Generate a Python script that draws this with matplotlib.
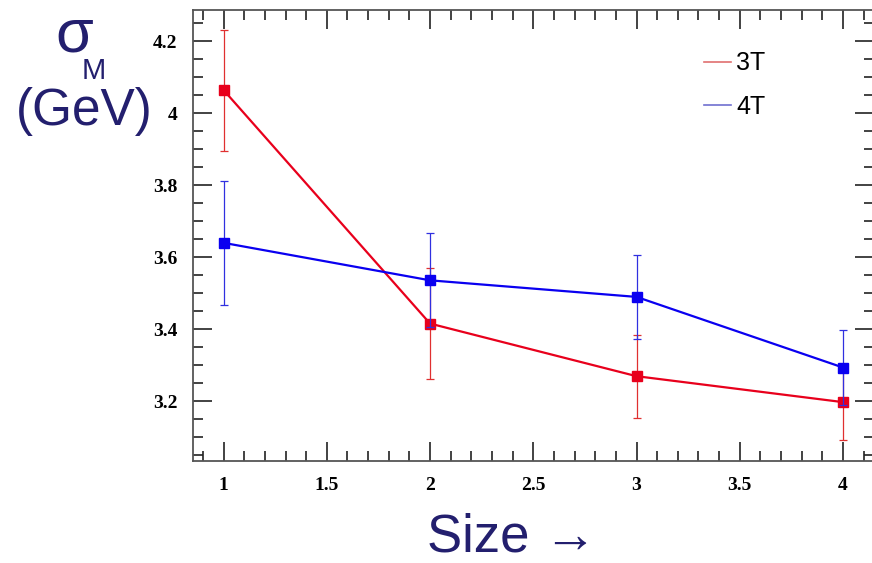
import matplotlib
matplotlib.use("Agg")
import matplotlib.pyplot as plt
from matplotlib.ticker import MultipleLocator
from matplotlib.lines import Line2D

sizes = [1, 2, 3, 4]
sigma_3T = [4.064, 3.416, 3.270, 3.198]
err_3T = [0.168, 0.155, 0.115, 0.105]
sigma_4T = [3.640, 3.536, 3.490, 3.294]
err_4T = [0.172, 0.130, 0.117, 0.103]
series_labels = ["3T", "4T"]
x_ticks = [1, 1.5, 2, 2.5, 3, 3.5, 4]
y_ticks = [3.2, 3.4, 3.6, 3.8, 4.0, 4.2]

W, H = 872, 563
fig = plt.figure(figsize=(W / 100, H / 100), dpi=100)
ax = fig.add_axes([193 / W, 1 - 460.7 / H, (874 - 193) / W, (460.7 - 9.5) / H])

red = "#e8001c"
blue = "#0a00f0"

ax.errorbar(sizes, sigma_3T, yerr=err_3T, color=red, lw=1.6, marker="s", ms=7.5,
            mfc=red, mec=red, ecolor="#e03030", elinewidth=0.9, capsize=3, capthick=0.9, zorder=3)
ax.errorbar(sizes, sigma_4T, yerr=err_4T, color=blue, lw=1.6, marker="s", ms=7.5,
            mfc=blue, mec=blue, ecolor="#3030e0", elinewidth=0.9, capsize=3, capthick=0.9, zorder=4)

ax.set_xlim(0.852, 4.15)
ax.set_ylim(3.0355, 4.2875)
ax.set_xticks(x_ticks)
ax.set_yticks(y_ticks)
ax.set_xticklabels(["1", "1.5", "2", "2.5", "3", "3.5", "4"])
ax.set_yticklabels(["3.2", "3.4", "3.6", "3.8", "4", "4.2"])
ax.xaxis.set_minor_locator(MultipleLocator(0.1))
ax.yaxis.set_minor_locator(MultipleLocator(0.05))
ax.tick_params(which="both", direction="in", top=True, right=True, color="#222222", width=1.2)
ax.tick_params(which="major", length=14)
ax.tick_params(which="minor", length=7)
ax.tick_params(axis="y", which="major", pad=11)
ax.tick_params(axis="x", which="major", pad=12)
for lab in ax.get_xticklabels() + ax.get_yticklabels():
    lab.set_fontfamily("Liberation Serif")
    lab.set_fontweight("bold")
    lab.set_fontsize(14)
for s in ax.spines.values():
    s.set_color("#555555")
    s.set_linewidth(1.3)

# legend
handles = [Line2D([0], [0], color="#e07070", lw=1.2), Line2D([0], [0], color="#7070d0", lw=1.2)]
leg = ax.legend(handles, series_labels, loc="upper left",
                bbox_to_anchor=((681 - 193) / (874 - 193), 1 - (29 - 9.5) / 451.2),
                frameon=False, handlelength=1.1, handletextpad=0.2, labelspacing=0.78,
                prop={"family": "Liberation Sans", "size": 18})

navy = "#231f6e"
fig.text(74 / W, 1 - 36 / H, "σ", color=navy, fontsize=44, family=["Liberation Sans", "DejaVu Sans"],
         ha="center", va="center")
fig.text(94 / W, 1 - 71 / H, "M", color=navy, fontsize=21, family="Liberation Sans", ha="center", va="center")
fig.text(84 / W, 1 - 112 / H, "(GeV)", color=navy, fontsize=37, family="Liberation Sans", ha="center", va="center")
fig.text(512 / W, 1 - 537 / H, "Size →", color=navy, fontsize=38, family=["Liberation Sans", "DejaVu Sans"],
         ha="center", va="center")

fig.savefig("out.png", dpi=100)
